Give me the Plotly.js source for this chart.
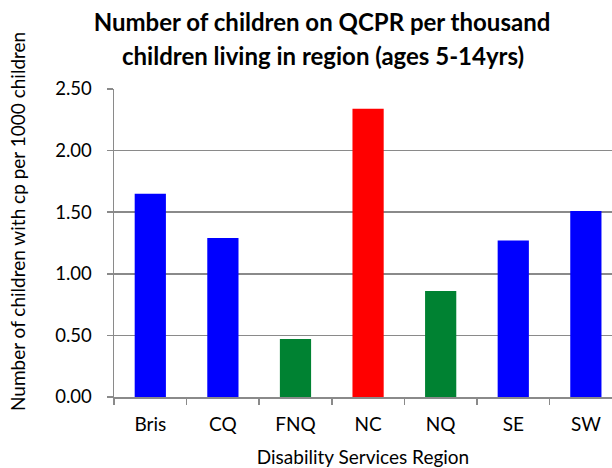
<!DOCTYPE html>
<html>
<head>
<meta charset="utf-8">
<script src="https://cdn.plot.ly/plotly-3.0.1.min.js"></script>
<style>html,body{margin:0;padding:0;background:#fff;}#chart{width:612px;height:468px;}</style>
</head>
<body>
<div id="chart"></div>
<script>
const regions = ["Bris", "CQ", "FNQ", "NC", "NQ", "SE", "SW"];
const childrenPerThousand = [1.65, 1.29, 0.47, 2.34, 0.86, 1.27, 1.51];
const barColors = ["#0000FF", "#0000FF", "#008232", "#FF0000", "#008232", "#0000FF", "#0000FF"];
const yTickValues = [0, 0.5, 1.0, 1.5, 2.0, 2.5];

const FONT = "Lato, Carlito, Calibri, 'Open Sans', sans-serif";
const GRID = "#8a8a8a";

const trace = {
  type: "bar",
  x: regions,
  y: childrenPerThousand,
  marker: {color: barColors, line: {width: 0}},
  hoverinfo: "x+y"
};

const layout = {
  width: 612, height: 468,
  margin: {l: 114, r: 0, t: 89, b: 71, pad: 0},
  paper_bgcolor: "#ffffff",
  plot_bgcolor: "#ffffff",
  showlegend: false,
  bargap: 0.57,
  font: {family: FONT, color: "#000000", size: 19},
  title: {
    text: "<b>Number of children on QCPR per thousand</b>",
    font: {family: FONT, size: 24, color: "#000"},
    x: 322 / 612, xanchor: "center", xref: "container",
    y: 1 - 23 / 468, yanchor: "middle", yref: "container"
  },
  annotations: [
    {
      text: "<b>children living in region (ages 5-14yrs)</b>",
      xref: "paper", yref: "paper",
      x: (323 - 114) / 498, y: 1 + (89 - 56) / 308,
      xanchor: "center", yanchor: "middle", showarrow: false,
      font: {family: FONT, size: 24, color: "#000"}
    },
    {
      text: "Number of children with cp per 1000 children",
      textangle: -90,
      xref: "paper", yref: "paper",
      x: (18 - 114) / 498, y: (397 - 222) / 308,
      xanchor: "center", yanchor: "middle", showarrow: false,
      font: {family: FONT, size: 19, color: "#000"}
    }
  ],
  xaxis: {
    type: "category",
    range: [-0.5, 6.36],
    showgrid: false,
    showline: true, linecolor: GRID, linewidth: 1.5,
    ticks: "outside", tickson: "boundaries", ticklen: 6, tickcolor: GRID, tickwidth: 1.5,
    tickfont: {family: FONT, size: 19, color: "#000"},
    ticklabelstandoff: 10,
    title: {text: "Disability Services Region", font: {family: FONT, size: 19, color: "#000"}, standoff: 19},
    fixedrange: true
  },
  yaxis: {
    range: [0, 2.5],
    tickvals: yTickValues,
    tickformat: ".2f",
    showgrid: true, gridcolor: GRID, gridwidth: 1.5,
    zeroline: false,
    showline: true, linecolor: GRID, linewidth: 1.5,
    ticks: "outside", ticklen: 6, tickcolor: GRID, tickwidth: 1.5,
    tickfont: {family: FONT, size: 18.5, color: "#000"},
    ticklabelstandoff: 11,
    fixedrange: true
  }
};

Plotly.newPlot("chart", [trace], layout, {displayModeBar: false, staticPlot: true});
</script>
</body>
</html>
